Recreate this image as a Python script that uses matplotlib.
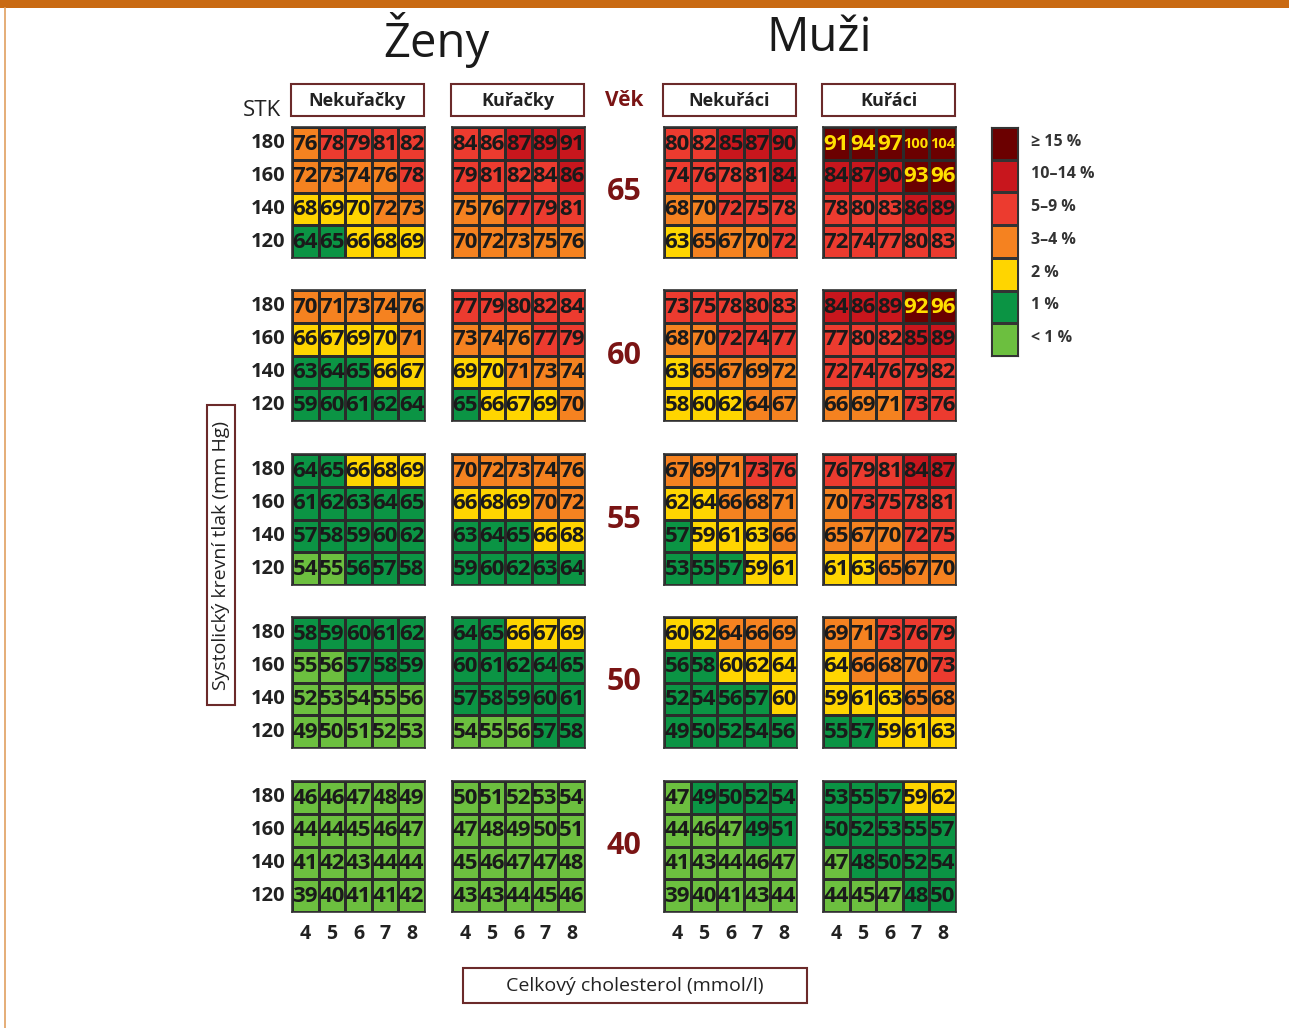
import numpy as np
import matplotlib.pyplot as plt
from matplotlib.colors import ListedColormap, BoundaryNorm
from matplotlib.patches import Rectangle

plt.rcParams['font.family'] = ['Open Sans', 'DejaVu Sans']

# SCORE chart: heart age per cell, rows = STK 180,160,140,120, cols = cholesterol 4..8
ages = [65, 60, 55, 50, 40]
stk = [180, 160, 140, 120]
chol = [4, 5, 6, 7, 8]
groups = ['Nekuřačky', 'Kuřačky', 'Nekuřáci', 'Kuřáci']

zeny_nekur_vek = [
    [[76, 78, 79, 81, 82], [72, 73, 74, 76, 78], [68, 69, 70, 72, 73], [64, 65, 66, 68, 69]],
    [[70, 71, 73, 74, 76], [66, 67, 69, 70, 71], [63, 64, 65, 66, 67], [59, 60, 61, 62, 64]],
    [[64, 65, 66, 68, 69], [61, 62, 63, 64, 65], [57, 58, 59, 60, 62], [54, 55, 56, 57, 58]],
    [[58, 59, 60, 61, 62], [55, 56, 57, 58, 59], [52, 53, 54, 55, 56], [49, 50, 51, 52, 53]],
    [[46, 46, 47, 48, 49], [44, 44, 45, 46, 47], [41, 42, 43, 44, 44], [39, 40, 41, 41, 42]],
]
zeny_nekur_riziko = [
    [[3, 4, 4, 4, 4], [3, 3, 3, 3, 4], [2, 2, 2, 3, 3], [1, 1, 2, 2, 2]],
    [[3, 3, 3, 3, 3], [2, 2, 2, 2, 3], [1, 1, 1, 2, 2], [1, 1, 1, 1, 1]],
    [[1, 1, 2, 2, 2], [1, 1, 1, 1, 1], [1, 1, 1, 1, 1], [0, 0, 1, 1, 1]],
    [[1, 1, 1, 1, 1], [0, 0, 1, 1, 1], [0, 0, 0, 0, 0], [0, 0, 0, 0, 0]],
    [[0, 0, 0, 0, 0], [0, 0, 0, 0, 0], [0, 0, 0, 0, 0], [0, 0, 0, 0, 0]],
]
zeny_kur_vek = [
    [[84, 86, 87, 89, 91], [79, 81, 82, 84, 86], [75, 76, 77, 79, 81], [70, 72, 73, 75, 76]],
    [[77, 79, 80, 82, 84], [73, 74, 76, 77, 79], [69, 70, 71, 73, 74], [65, 66, 67, 69, 70]],
    [[70, 72, 73, 74, 76], [66, 68, 69, 70, 72], [63, 64, 65, 66, 68], [59, 60, 62, 63, 64]],
    [[64, 65, 66, 67, 69], [60, 61, 62, 64, 65], [57, 58, 59, 60, 61], [54, 55, 56, 57, 58]],
    [[50, 51, 52, 53, 54], [47, 48, 49, 50, 51], [45, 46, 47, 47, 48], [43, 43, 44, 45, 46]],
]
zeny_kur_riziko = [
    [[4, 4, 5, 5, 5], [4, 4, 4, 4, 5], [3, 3, 4, 4, 4], [3, 3, 3, 3, 3]],
    [[4, 4, 4, 4, 4], [3, 3, 3, 4, 4], [2, 2, 3, 3, 3], [1, 2, 2, 2, 3]],
    [[3, 3, 3, 3, 3], [2, 2, 2, 3, 3], [1, 1, 1, 2, 2], [1, 1, 1, 1, 1]],
    [[1, 1, 2, 2, 2], [1, 1, 1, 1, 1], [1, 1, 1, 1, 1], [0, 0, 0, 1, 1]],
    [[0, 0, 0, 0, 0], [0, 0, 0, 0, 0], [0, 0, 0, 0, 0], [0, 0, 0, 0, 0]],
]
muzi_nekur_vek = [
    [[80, 82, 85, 87, 90], [74, 76, 78, 81, 84], [68, 70, 72, 75, 78], [63, 65, 67, 70, 72]],
    [[73, 75, 78, 80, 83], [68, 70, 72, 74, 77], [63, 65, 67, 69, 72], [58, 60, 62, 64, 67]],
    [[67, 69, 71, 73, 76], [62, 64, 66, 68, 71], [57, 59, 61, 63, 66], [53, 55, 57, 59, 61]],
    [[60, 62, 64, 66, 69], [56, 58, 60, 62, 64], [52, 54, 56, 57, 60], [49, 50, 52, 54, 56]],
    [[47, 49, 50, 52, 54], [44, 46, 47, 49, 51], [41, 43, 44, 46, 47], [39, 40, 41, 43, 44]],
]
muzi_nekur_riziko = [
    [[4, 4, 5, 5, 5], [4, 4, 4, 4, 5], [3, 3, 4, 4, 4], [2, 3, 3, 3, 4]],
    [[4, 4, 4, 4, 4], [3, 3, 4, 4, 4], [2, 3, 3, 3, 3], [2, 2, 2, 3, 3]],
    [[3, 3, 3, 4, 4], [2, 2, 3, 3, 3], [1, 2, 2, 2, 3], [1, 1, 1, 2, 2]],
    [[2, 2, 3, 3, 3], [1, 1, 2, 2, 2], [1, 1, 1, 1, 2], [1, 1, 1, 1, 1]],
    [[0, 1, 1, 1, 1], [0, 0, 0, 1, 1], [0, 0, 0, 0, 0], [0, 0, 0, 0, 0]],
]
muzi_kur_vek = [
    [[91, 94, 97, 100, 104], [84, 87, 90, 93, 96], [78, 80, 83, 86, 89], [72, 74, 77, 80, 83]],
    [[84, 86, 89, 92, 96], [77, 80, 82, 85, 89], [72, 74, 76, 79, 82], [66, 69, 71, 73, 76]],
    [[76, 79, 81, 84, 87], [70, 73, 75, 78, 81], [65, 67, 70, 72, 75], [61, 63, 65, 67, 70]],
    [[69, 71, 73, 76, 79], [64, 66, 68, 70, 73], [59, 61, 63, 65, 68], [55, 57, 59, 61, 63]],
    [[53, 55, 57, 59, 62], [50, 52, 53, 55, 57], [47, 48, 50, 52, 54], [44, 45, 47, 48, 50]],
]
muzi_kur_riziko = [
    [[6, 6, 6, 6, 6], [5, 5, 5, 6, 6], [4, 4, 4, 5, 5], [4, 4, 4, 4, 4]],
    [[5, 5, 5, 6, 6], [4, 4, 4, 5, 5], [4, 4, 4, 4, 4], [3, 3, 3, 4, 4]],
    [[4, 4, 4, 5, 5], [3, 4, 4, 4, 4], [3, 3, 3, 4, 4], [2, 2, 3, 3, 3]],
    [[3, 3, 4, 4, 4], [2, 3, 3, 3, 4], [2, 2, 2, 3, 3], [1, 1, 2, 2, 2]],
    [[1, 1, 1, 2, 2], [1, 1, 1, 1, 1], [0, 1, 1, 1, 1], [0, 0, 0, 1, 1]],
]

legend_labels = ['≥ 15 %', '10–14 %', '5–9 %', '3–4 %', '2 %', '1 %', '< 1 %']
colors = ['#6cbf3f', '#0b9444', '#ffd500', '#f58220', '#ec3b2f', '#c8161d', '#6b0000']

cmap = ListedColormap(colors)
norm = BoundaryNorm(np.arange(-0.5, 7.5, 1), cmap.N)

W, H = 1289, 1028
fig = plt.figure(figsize=(W / 100, H / 100), dpi=100)
bg = fig.add_axes([0, 0, 1, 1])
bg.set_xlim(0, W)
bg.set_ylim(H, 0)
bg.axis('off')

# orange frame at the top / left
bg.add_patch(Rectangle((0, 0), W, 8, color='#c96a12', lw=0))
bg.plot([5, 5], [8, H], color='#e0a060', lw=1.2)

dark_red = '#7a1414'
edge = '#6b2a2a'

bg.text(436, 40, 'Ženy', fontsize=34, ha='center', va='center', color='#1a1a1a')
bg.text(819, 38, 'Muži', fontsize=34, ha='center', va='center', color='#1a1a1a')

block_x = [292, 452, 664, 823]
block_y = [127, 290, 454, 617, 781]
bw, bh = 133, 131

data = [(zeny_nekur_vek, zeny_nekur_riziko), (zeny_kur_vek, zeny_kur_riziko),
        (muzi_nekur_vek, muzi_nekur_riziko), (muzi_kur_vek, muzi_kur_riziko)]

for g, name in enumerate(groups):
    x0 = block_x[g]
    bg.add_patch(Rectangle((x0 - 1, 84), bw, 32, fill=False, ec=edge, lw=1.5))
    bg.text(x0 - 1 + bw / 2, 101, name, fontsize=13, fontweight='bold',
            ha='center', va='center', color='#222222')
    for k, c in enumerate(chol):
        bg.text(x0 + (k + 0.5) * bw / 5, 934, str(c), fontsize=14, fontweight='bold',
                ha='center', va='center', color='#222222')

bg.text(624, 101, 'Věk', fontsize=15, fontweight='bold', ha='center', va='center', color=dark_red)
bg.text(262, 110, 'STK', fontsize=16, ha='center', va='center', color='#222222')

for a, age in enumerate(ages):
    y0 = block_y[a]
    bg.text(624, y0 + bh / 2, str(age), fontsize=22, fontweight='bold',
            ha='center', va='center', color=dark_red)
    for r, s in enumerate(stk):
        bg.text(285, y0 + (r + 0.5) * bh / 4, str(s), fontsize=14.5, fontweight='bold',
                ha='right', va='center', color='#222222')
    for g in range(4):
        vek, riz = data[g]
        ax = fig.add_axes([block_x[g] / W, 1 - (y0 + bh) / H, bw / W, bh / H])
        ax.pcolormesh(np.array(riz[a]), cmap=cmap, norm=norm, edgecolors='#2b2b2b', linewidth=0.8)
        ax.set_xlim(0, 5)
        ax.set_ylim(4, 0)
        ax.set_xticks([])
        ax.set_yticks([])
        for sp in ax.spines.values():
            sp.set_color('#333333')
            sp.set_linewidth(1.2)
        for i in range(4):
            for j in range(5):
                v = vek[a][i][j]
                top = riz[a][i][j] == 6
                ax.text(j + 0.5, i + 0.52, str(v), ha='center', va='center',
                        fontsize=10.5 if v >= 100 else 16, fontweight='bold',
                        color='#ffe000' if top else '#1a1a1a')

# legend
lx, ly, lw_, lh = 991, 127, 27, 229
lax = fig.add_axes([lx / W, 1 - (ly + lh) / H, lw_ / W, lh / H])
lax.pcolormesh(np.arange(6, -1, -1).reshape(-1, 1), cmap=cmap, norm=norm,
               edgecolors='#333333', linewidth=0.8)
lax.set_ylim(7, 0)
lax.set_xticks([])
lax.set_yticks([])
for sp in lax.spines.values():
    sp.set_color('#333333')
for k, lab in enumerate(legend_labels):
    bg.text(1031, ly + (k + 0.45) * lh / 7, lab, fontsize=11.5, fontweight='bold',
            ha='left', va='center', color='#333333')

# axis label boxes
bg.add_patch(Rectangle((207, 405), 28, 300, fill=False, ec=edge, lw=1.5))
bg.text(221, 555, 'Systolický krevní tlak (mm Hg)', rotation=90, fontsize=14,
        ha='center', va='center', color='#222222')
bg.add_patch(Rectangle((463, 968), 344, 35, fill=False, ec=edge, lw=1.5))
bg.text(635, 986, 'Celkový cholesterol (mmol/l)', fontsize=14,
        ha='center', va='center', color='#222222')

fig.savefig('out.png', dpi=100)
